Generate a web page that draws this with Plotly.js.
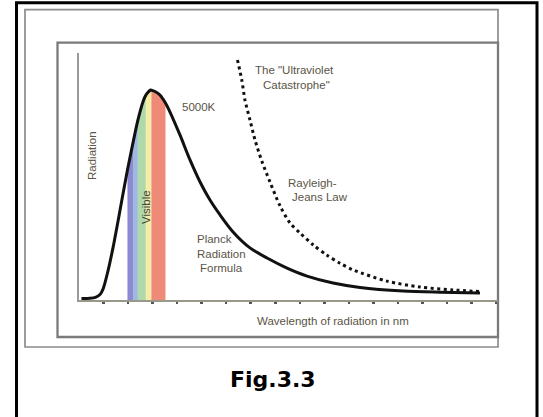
<!DOCTYPE html>
<html>
<head>
<meta charset="utf-8">
<script src="https://cdn.plot.ly/plotly-3.0.1.min.js"></script>
<style>
html,body{margin:0;padding:0;background:#fff;}
#chart{width:543px;height:417px;}
</style>
</head>
<body>
<div id="chart"></div>
<script>
// ---- data (wavelength in nm, radiation in arbitrary units, peak = 1) ----
const wavelengthNm = [20,90,139,171,196,236,277,314,348,395,440,480,524,545,585,590,620,660,705,742,823,905,987,1068,1150,1256,1394,1533,1696,1859,2071,2291,2642,2943,3269];
const planckRadiation = [0.007,0.008,0.014,0.026,0.052,0.138,0.248,0.362,0.471,0.619,0.748,0.857,0.948,0.976,1.0,0.999,0.993,0.976,0.938,0.895,0.786,0.667,0.562,0.476,0.405,0.324,0.248,0.200,0.152,0.114,0.081,0.060,0.043,0.037,0.033];

const rayleighNm = [1292,1327,1353,1394,1435,1490,1557,1639,1720,1802,1910,2020,2128,2236,2509,2780,3049,3269];
const rayleighRadiation = [1.143,1.048,0.952,0.857,0.762,0.662,0.562,0.448,0.367,0.319,0.262,0.214,0.175,0.143,0.090,0.062,0.048,0.040];

const visibleBandEdgesNm = [395,440,480,545,590,705];
const visibleBandColors = ['#8b89cf','#9fb8e0','#afd9ab','#f3eea4','#f08a78'];

const tickValsNm = [200,400,600,800,1000,1200,1400,1600,1800,2000,2200,2400,2600,2800,3000,3200,3400];

// ---- layout geometry helpers (pixel -> paper) ----
const L = 79, R = 45, T = 53, B = 117, W = 543, H = 417;
const PW = W - L - R, PH = H - T - B;
const PX = x => (x - L) / PW;
const PY = y => (H - B - y) / PH;

const traces = [];
for (let i = 0; i < visibleBandColors.length; i++) {
  const xs = [], ys = [];
  wavelengthNm.forEach((w, k) => {
    if (w >= visibleBandEdgesNm[i] && w <= visibleBandEdgesNm[i + 1]) { xs.push(w); ys.push(planckRadiation[k]); }
  });
  traces.push({x: xs, y: ys, type: 'scatter', mode: 'none', fill: 'tozeroy',
    fillcolor: visibleBandColors[i], hoverinfo: 'skip', showlegend: false});
}
traces.push({x: rayleighNm, y: rayleighRadiation, type: 'scatter', mode: 'lines',
  line: {color: '#111', width: 3, dash: '3px,3.5px', shape: 'spline', smoothing: 0.8}, showlegend: false});
traces.push({x: wavelengthNm, y: planckRadiation, type: 'scatter', mode: 'lines',
  line: {color: '#111', width: 3, shape: 'spline', smoothing: 0.8}, showlegend: false});

const txtFont = {family: 'Liberation Sans, Arial, sans-serif', size: 11.5, color: '#5a5446'};
function ann(text, x, y, opts) {
  return Object.assign({text: text, xref: 'paper', yref: 'paper', x: PX(x), y: PY(y),
    showarrow: false, font: txtFont, xanchor: 'center', yanchor: 'middle'}, opts || {});
}

const annotations = [
  ann('The "Ultraviolet', 294, 70),
  ann('Catastrophe"', 296, 85),
  ann('5000K', 199, 107),
  ann('Rayleigh-', 312.5, 183),
  ann('Jeans Law', 320, 197),
  ann('Planck', 195, 239, {xanchor: 'left'}),
  ann('Radiation', 194.5, 253.5, {xanchor: 'left'}),
  ann('Formula', 198, 267.5, {xanchor: 'left'}),
  ann('Radiation', 91.5, 155.5, {textangle: -90}),
  ann('Visible', 146, 207, {textangle: -90, font: {family: 'Liberation Sans, Arial, sans-serif', size: 11.5, color: '#45453a'}}),
  ann('Wavelength of radiation in nm', 333, 320.5),
  ann('Fig.3.3', 273, 379, {font: {family: 'DejaVu Sans, Verdana, sans-serif', size: 22, color: '#000', weight: 'bold'}})
];

function rect(x0, y0, x1, y1, color, width) {
  return {type: 'rect', xref: 'paper', yref: 'paper', x0: PX(x0), x1: PX(x1), y0: PY(y0), y1: PY(y1),
    line: {color: color, width: width}, fillcolor: 'rgba(0,0,0,0)', layer: 'below'};
}
const shapes = [
  rect(16.5, 2.7, 537, 440, '#000', 3),
  rect(25, 9.7, 498, 347, '#8c8c8c', 1.7),
  rect(57.5, 42.7, 498, 337, '#7a7a7a', 2.3)
];

const layout = {
  width: W, height: H,
  margin: {l: L, r: R, t: T, b: B, pad: 0},
  paper_bgcolor: '#fff', plot_bgcolor: 'rgba(0,0,0,0)',
  showlegend: false,
  xaxis: {range: [0, 3416], showgrid: false, zeroline: false, showline: true, linecolor: '#9a9888', linewidth: 1.5,
    ticks: 'outside', ticklen: 2, tickwidth: 2.5, tickcolor: '#555', tickvals: tickValsNm, showticklabels: false, fixedrange: true},
  yaxis: {range: [0, PH / 210], showgrid: false, zeroline: false, showline: true, linecolor: '#9a9a9a', linewidth: 2,
    ticks: '', showticklabels: false, fixedrange: true},
  annotations: annotations,
  shapes: shapes
};

Plotly.newPlot('chart', traces, layout, {displayModeBar: false, staticPlot: true});
</script>
</body>
</html>
